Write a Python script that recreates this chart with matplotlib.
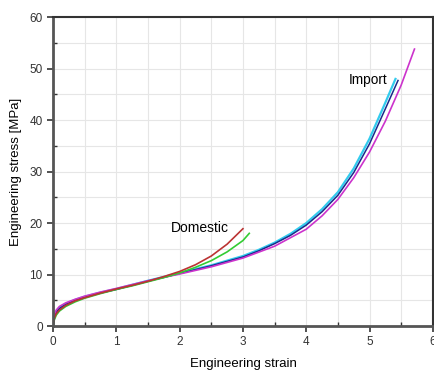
import numpy as np
import matplotlib
matplotlib.use('Agg')
import matplotlib.pyplot as plt
from matplotlib.ticker import MultipleLocator

plt.rcParams['font.family'] = ['Liberation Sans', 'DejaVu Sans']

# domestic samples
dom_red_x = [0, 0.02, 0.05, 0.1, 0.2, 0.35, 0.5, 0.75, 1.0, 1.25, 1.5, 1.75, 2.0, 2.25, 2.5, 2.75, 3.0]
dom_red_y = [0, 1.5, 2.4, 3.1, 4.0, 4.9, 5.5, 6.4, 7.2, 7.9, 8.7, 9.6, 10.6, 11.9, 13.6, 15.9, 18.9]
dom_grn_x = [0, 0.02, 0.05, 0.1, 0.2, 0.35, 0.5, 0.75, 1.0, 1.25, 1.5, 1.75, 2.0, 2.25, 2.5, 2.75, 3.0, 3.1]
dom_grn_y = [0, 1.2, 2.1, 2.9, 3.8, 4.7, 5.4, 6.3, 7.1, 7.8, 8.6, 9.4, 10.3, 11.4, 12.7, 14.4, 16.6, 18.0]

# import samples
imp_cyan_x = [0, 0.02, 0.05, 0.1, 0.2, 0.35, 0.5, 0.75, 1.0, 1.5, 2.0, 2.5, 3.0, 3.25, 3.5, 3.75, 4.0, 4.25, 4.5, 4.75, 5.0, 5.25, 5.41]
imp_cyan_y = [0, 1.8, 2.8, 3.5, 4.3, 5.1, 5.7, 6.5, 7.2, 8.8, 10.3, 11.8, 13.6, 14.8, 16.2, 17.9, 20.0, 22.7, 26.0, 30.6, 36.4, 43.4, 48.0]
imp_navy_x = [0, 0.02, 0.05, 0.1, 0.2, 0.35, 0.5, 0.75, 1.0, 1.5, 2.0, 2.5, 3.0, 3.25, 3.5, 3.75, 4.0, 4.25, 4.5, 4.75, 5.0, 5.25, 5.45]
imp_navy_y = [0, 1.7, 2.7, 3.4, 4.2, 5.0, 5.6, 6.4, 7.1, 8.7, 10.2, 11.7, 13.4, 14.6, 16.0, 17.6, 19.6, 22.2, 25.4, 29.8, 35.4, 42.2, 47.7]
imp_mag_x = [0, 0.02, 0.05, 0.1, 0.2, 0.35, 0.5, 0.75, 1.0, 1.5, 2.0, 2.5, 3.0, 3.5, 4.0, 4.25, 4.5, 4.75, 5.0, 5.25, 5.5, 5.71]
imp_mag_y = [0, 2.2, 3.1, 3.8, 4.5, 5.2, 5.8, 6.6, 7.3, 8.8, 10.1, 11.5, 13.2, 15.5, 18.8, 21.4, 24.6, 28.8, 33.8, 39.8, 46.8, 53.8]

fig = plt.figure(figsize=(4.35, 3.73), dpi=100)
ax = fig.add_axes([0.122, 0.126, 0.873, 0.828])

ax.plot(imp_cyan_x, imp_cyan_y, color='#33ccee', lw=1.6)
ax.plot(imp_navy_x, imp_navy_y, color='#1a2a8a', lw=1.1)
ax.plot(imp_mag_x, imp_mag_y, color='#cc33cc', lw=1.2)
ax.plot(dom_grn_x, dom_grn_y, color='#33cc33', lw=1.2)
ax.plot(dom_red_x, dom_red_y, color='#bb3333', lw=1.2)

ax.text(2.32, 19.0, 'Domestic', fontsize=10, ha='center', va='center')
ax.text(4.97, 47.7, 'Import', fontsize=9.8, ha='center', va='center')

ax.set_xlim(0, 6)
ax.set_ylim(0, 60)
ax.xaxis.set_major_locator(MultipleLocator(1))
ax.xaxis.set_minor_locator(MultipleLocator(0.5))
ax.yaxis.set_major_locator(MultipleLocator(10))
ax.yaxis.set_minor_locator(MultipleLocator(5))
ax.grid(True, which='both', color='#e6e6e6', lw=0.8)
ax.set_axisbelow(True)

ax.tick_params(which='major', direction='out', length=4, width=1.2, labelsize=8.5, colors='#333333')
ax.tick_params(which='minor', direction='in', length=3, width=1.0, colors='#333333')
for s in ['left', 'bottom']:
    ax.spines[s].set_linewidth(2)
    ax.spines[s].set_color('#555555')
for s in ['top', 'right']:
    ax.spines[s].set_linewidth(1.5)
    ax.spines[s].set_color('#333333')

ax.set_xlabel('Engineering strain', fontsize=9.5, labelpad=7)
ax.set_ylabel('Engineering stress [MPa]', fontsize=9.5, labelpad=5)

fig.savefig('out.png', dpi=100)
